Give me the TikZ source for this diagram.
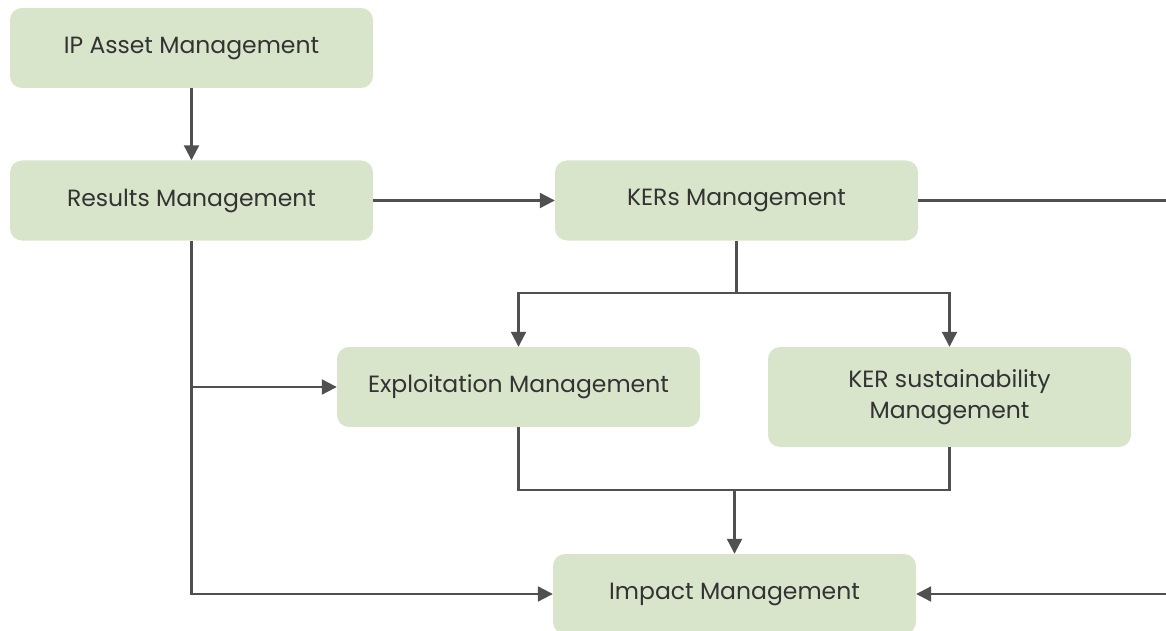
\documentclass[tikz,border=0pt]{standalone}
\usepackage{fontspec}
\setmainfont{Poppins}
\usetikzlibrary{arrows.meta}
\definecolor{boxfill}{HTML}{D9E5CB}
\definecolor{linecol}{HTML}{505050}
\definecolor{txtcol}{HTML}{333333}
\begin{document}
\begin{tikzpicture}[x=1pt,y=-1pt,
  box/.style={draw=none,fill=boxfill,rounded corners=12pt,minimum width=363pt,minimum height=80pt,
    font=\fontsize{23.5}{31}\selectfont,text=txtcol,align=center,inner sep=0pt},
  conn/.style={draw=linecol,line width=2.2pt},
  arr/.style={conn,-{Triangle[length=15pt,width=15pt]}}]
\useasboundingbox (0,0) rectangle (1166,631);
\node[box] (ip) at (191.5,48) {IP Asset Management};
\node[box] (res) at (191.5,200.5) {Results Management};
\node[box] (ker) at (736.5,200.5) {KERs Management};
\node[box] (exp) at (518.5,387) {Exploitation Management};
\node[box,minimum height=100pt] (sus) at (949.5,397) {KER sustainability\\Management};
\node[box] (imp) at (734.5,594) {Impact Management};
\coordinate (re1) at (1166,200.5);
\coordinate (re2) at (1166,594);
\coordinate (split) at (736.5,293);
\coordinate (join) at (734.5,490);
\draw[arr] (ip) -- (res);
\draw[arr] (res) -- (ker);
\draw[conn] (ker.east) -- (re1);
\draw[conn] (ker.south) -- (split);
\draw[arr] (split) -| (exp.north);
\draw[arr] (split) -| (sus.north);
\draw[arr] (res.south) |- (imp.west);
\draw[arr] (res.south |- exp.west) -- (exp.west);
\draw[conn] (exp.south) |- (join) -| (sus.south);
\draw[arr] (join) -- (imp.north);
\draw[arr] (re2) -- (imp.east);
\end{tikzpicture}
\end{document}
